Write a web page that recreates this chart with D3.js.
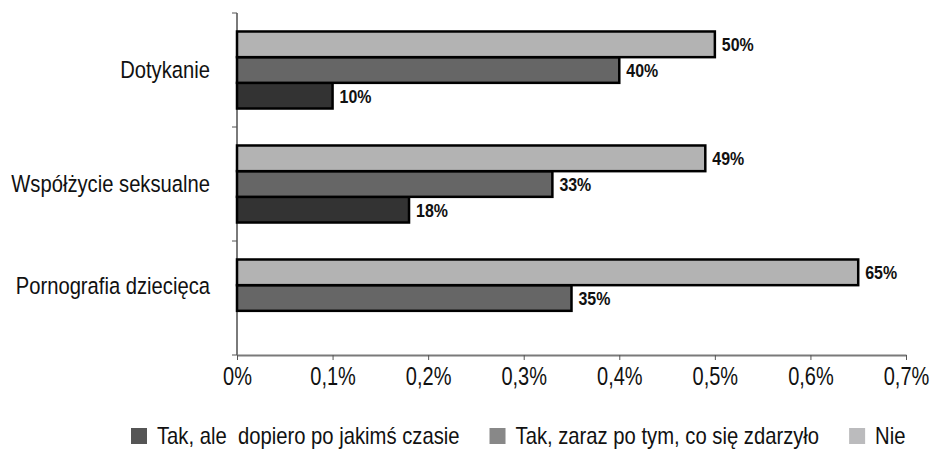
<!DOCTYPE html>
<html>
<head>
<meta charset="utf-8">
<script src="https://cdn.jsdelivr.net/npm/d3@7"></script>
<style>
  body { margin: 0; background: #fff; }
  svg text { font-family: "Liberation Sans", Arial, sans-serif; fill: #111; }
</style>
</head>
<body>
<svg id="chart" width="931" height="449"></svg>
<script>
var categories = ["Dotykanie", "Współżycie seksualne", "Pornografia dziecięca"];
var seriesNames = ["Tak, ale  dopiero po jakimś czasie", "Tak, zaraz po tym, co się zdarzyło", "Nie"];
var lateValues = [0.10, 0.18, null];
var immediateValues = [0.40, 0.33, 0.35];
var noValues = [0.50, 0.49, 0.65];
var xTicks = [0, 0.1, 0.2, 0.3, 0.4, 0.5, 0.6, 0.7];
var xTickLabels = ["0%", "0,1%", "0,2%", "0,3%", "0,4%", "0,5%", "0,6%", "0,7%"];

var barColors = ["#333333", "#666666", "#b3b3b3"];
var legendColors = ["#555555", "#888888", "#bbbbbd"];

var svg = d3.select("#chart");
var margin = {top: 13, right: 25, bottom: 94, left: 237};
var width = 931 - margin.left - margin.right;
var height = 449 - margin.top - margin.bottom;

var g = svg.append("g").attr("transform", "translate(" + margin.left + "," + margin.top + ")");

var x = d3.scaleLinear().domain([0, 0.7]).range([0, width]);
var y = d3.scaleBand().domain(categories).range([0, height]);
// top to bottom inside a group: Nie, zaraz, dopiero
var inner = d3.scaleBand().domain([2, 1, 0]).range([0, y.bandwidth()]).paddingOuter(0.72);

var seriesValues = [lateValues, immediateValues, noValues];

// narrow font look: horizontal squeeze of Liberation Sans
function narrow(parent, tx, ty, sx) {
  return parent.append("g").attr("transform", "translate(" + tx + "," + ty + ") scale(" + sx + ",1)")
    .append("text");
}

// x axis
var xAxis = g.append("g")
    .attr("transform", "translate(0," + height + ")")
    .call(d3.axisBottom(x).tickValues(xTicks).tickFormat(function(d, i) { return xTickLabels[i]; }).tickSize(5).tickSizeOuter(0));
xAxis.select(".domain").attr("stroke", "#7a7a7a").attr("stroke-width", 2);
xAxis.selectAll(".tick line").attr("stroke", "#555").attr("stroke-width", 1);
xAxis.selectAll(".tick text")
  .attr("font-size", 25).attr("dy", "0.9em").attr("fill", "#111")
  .attr("font-family", "Liberation Sans, Arial, sans-serif")
  .attr("transform", "scale(0.8,1)");

// y axis line + category boundary ticks
g.append("line").attr("x1", 0).attr("x2", 0).attr("y1", 0).attr("y2", height)
  .attr("stroke", "#7a7a7a").attr("stroke-width", 2);
var bounds = categories.map(function(c) { return y(c); }).concat([height]);
g.selectAll(".ytick").data(bounds).enter().append("line")
  .attr("x1", -5).attr("x2", 0).attr("y1", function(d) { return d; }).attr("y2", function(d) { return d; })
  .attr("stroke", "#555").attr("stroke-width", 1);

// bars
var bars = [];
categories.forEach(function(c, ci) {
  seriesValues.forEach(function(vals, si) {
    if (vals[ci] != null) bars.push({cat: c, ci: ci, s: si, v: vals[ci]});
  });
});

g.selectAll(".bar").data(bars).enter().append("rect")
  .attr("x", 0)
  .attr("y", function(d) { return y(d.cat) + inner(d.s); })
  .attr("width", function(d) { return x(d.v); })
  .attr("height", inner.bandwidth())
  .attr("fill", function(d) { return barColors[d.s]; })
  .attr("stroke", "#000")
  .attr("stroke-width", 2.5);

bars.forEach(function(d) {
  narrow(g, x(d.v) + 7, y(d.cat) + inner(d.s) + inner.bandwidth() / 2, 0.84)
    .attr("dy", "0.36em")
    .attr("font-size", 19)
    .attr("font-weight", "bold")
    .text(Math.round(d.v * 100) + "%");
});

// category labels, centred on the bars that are drawn
categories.forEach(function(c, ci) {
  var ys = bars.filter(function(b) { return b.ci === ci; })
    .map(function(b) { return y(c) + inner(b.s) + inner.bandwidth() / 2; });
  narrow(g, -27, d3.mean(ys), 0.86)
    .attr("dy", "0.36em")
    .attr("text-anchor", "end")
    .attr("font-size", 23.5)
    .text(c);
});

// legend
var legend = svg.append("g").attr("transform", "translate(0,436)");
var lx = 131;
seriesNames.forEach(function(name, i) {
  var item = legend.append("g").attr("transform", "translate(" + lx + ",0)");
  item.append("rect").attr("x", 0).attr("y", -8).attr("width", 16).attr("height", 16).attr("fill", legendColors[i]);
  var t = narrow(item, 26, 0, 0.88).attr("dy", "0.36em").attr("font-size", 23)
    .attr("xml:space", "preserve").style("white-space", "pre").text(name);
  lx += 26 + t.node().getComputedTextLength() * 0.88 + 30;
});
</script>
</body>
</html>
